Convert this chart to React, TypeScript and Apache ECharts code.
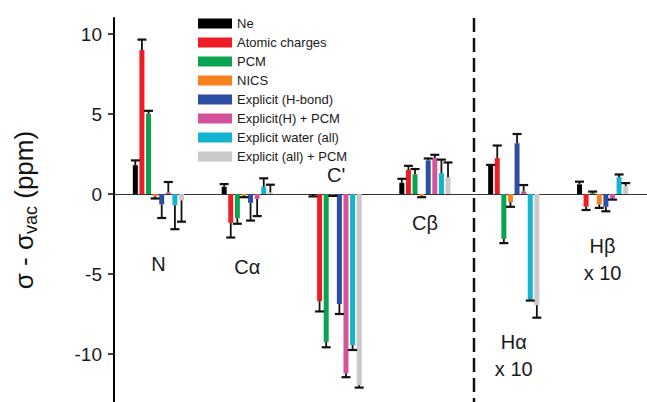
import React, { useEffect, useRef } from "react";
import * as echarts from "echarts";

// Nuclei (categories along the x axis)
const categories = ["N", "Cα", "C'", "Cβ", "Hα", "Hβ"];
// Extra line printed under some category labels (H shifts are scaled by 10)
const scaleNotes = ["", "", "", "", "x 10", "x 10"];
// Vertical level (ppm) at which each category label is written
const labelLevels = [-4.37, -4.55, 1.19, -1.81, -10.1, -4.12];

const seriesNames = [
  "Ne",
  "Atomic charges",
  "PCM",
  "NICS",
  "Explicit (H-bond)",
  "Explicit(H) + PCM",
  "Explicit water (all)",
  "Explicit (all) + PCM",
];

// σ - σvac (ppm) for each model, per nucleus
const neVals = [1.8, 0.45, -0.05, 0.7, 1.75, 0.6];
const atomicVals = [9.0, -1.8, -6.7, 1.5, 2.24, -0.8];
const pcmVals = [5.0, -1.5, -9.25, 1.23, -2.8, 0.05];
const nicsVals = [-0.15, -0.1, -0.05, -0.1, -0.5, -0.65];
const hbondVals = [-0.65, -0.55, -6.88, 2.1, 3.17, -0.8];
const hPcmVals = [0.1, -0.3, -11.2, 2.25, 0.16, -0.25];
const waterVals = [-0.7, 0.45, -9.45, 1.3, -6.6, 1.05];
const allPcmVals = [-0.4, 0.1, -11.95, 1.05, -6.95, 0.5];

// Error bar lengths (ppm), drawn away from zero
const neErr = [0.3, 0.17, 0.1, 0.25, 0.07, 0.17];
const atomicErr = [0.65, 0.92, 0.64, 0.26, 0.79, 0.2];
const pcmErr = [0.2, 0.36, 0.33, 0.33, 0.27, 0.1];
const nicsErr = [0.13, 0.1, 0.07, 0.1, 0.3, 0.22];
const hbondErr = [0.85, 1.11, 0.62, 0.12, 0.58, 0.28];
const hPcmErr = [0.65, 1.08, 0.25, 0.2, 0.4, 0.1];
const waterErr = [1.5, 0.53, 0.3, 0.85, 0.06, 0.17];
const allPcmErr = [1.33, 0.48, 0.15, 0.92, 0.78, 0.18];

const yTicks = [-10, -5, 0, 5, 10];

const values = [neVals, atomicVals, pcmVals, nicsVals, hbondVals, hPcmVals, waterVals, allPcmVals];
const errors = [neErr, atomicErr, pcmErr, nicsErr, hbondErr, hPcmErr, waterErr, allPcmErr];
const colors = ["#000000", "#ee1c24", "#0aa34f", "#f5821f", "#2c4fa3", "#d4539c", "#12b4d0", "#c9c9c9"];

const FONT = "'Liberation Sans', Arial, Helvetica, sans-serif";
const GRID_LEFT = 114;
const GRID_TOP = 18;
const GRID_WIDTH = 534;
const BAR_W = 5;
const BAR_GAP = 0.32;
const STEP = BAR_W * (1 + BAR_GAP);
const CAP = 4.5;

export default function App() {
  const ref = useRef<HTMLDivElement>(null);

  useEffect(() => {
    if (!ref.current) return;
    const chart = echarts.init(ref.current, undefined, { renderer: "svg" });

    const barSeries = seriesNames.map((name, i) => ({
      name,
      type: "bar",
      data: values[i],
      barWidth: BAR_W,
      barGap: `${BAR_GAP * 100}%`,
      itemStyle: { color: colors[i] },
      z: 2,
    }));

    const errorSeries = seriesNames.map((_, i) => ({
      type: "custom",
      z: 3,
      silent: true,
      encode: { x: 0, y: [1, 2] },
      data: values[i].map((v, c) => [c, v, v + Math.sign(v) * errors[i][c]]),
      renderItem: (_params: any, api: any) => {
        const c = api.value(0);
        const start = api.coord([c, api.value(1)]);
        const end = api.coord([c, api.value(2)]);
        const x = start[0] + (i - 3.5) * STEP;
        const style = { stroke: "#111", lineWidth: 1.8 };
        return {
          type: "group",
          children: [
            { type: "line", shape: { x1: x, y1: start[1], x2: x, y2: end[1] }, style },
            { type: "line", shape: { x1: x - CAP, y1: end[1], x2: x + CAP, y2: end[1] }, style: { ...style, lineWidth: 2.2 } },
          ],
        };
      },
    }));

    const labelSeries = {
      type: "scatter",
      silent: true,
      symbolSize: 0,
      itemStyle: { color: "#fff", opacity: 1 },
      data: categories.map((name, c) => ({
        value: [c, labelLevels[c]],
        name: scaleNotes[c] ? `${name}\n${scaleNotes[c]}` : name,
      })),
      label: {
        show: true,
        position: "inside",
        formatter: (p: any) => p.name,
        fontFamily: FONT,
        fontSize: 20,
        lineHeight: 27,
        color: "#1a1a1a",
        opacity: 1,
        textBorderWidth: 0,
        align: "center",
        verticalAlign: "middle",
      },
      z: 4,
    };

    const bandW = GRID_WIDTH / categories.length;

    chart.setOption({
      animation: false,
      backgroundColor: "#ffffff",
      textStyle: { fontFamily: FONT },
      grid: { left: GRID_LEFT, top: GRID_TOP, width: GRID_WIDTH, bottom: 0 },
      legend: {
        data: seriesNames,
        orient: "vertical",
        left: 193,
        top: 12,
        icon: "rect",
        itemWidth: 34,
        itemHeight: 10,
        itemGap: 6,
        textStyle: { fontFamily: FONT, fontSize: 13, lineHeight: 13, color: "#1a1a1a" },
        selectedMode: false,
      },
      xAxis: {
        type: "category",
        data: categories,
        axisLine: { onZero: true, lineStyle: { color: "#333", width: 1 } },
        axisTick: { show: false },
        axisLabel: { show: false },
        splitLine: { show: false },
      },
      yAxis: {
        type: "value",
        min: -13,
        max: 11,
        name: "{m|σ - σ}{s|vac}{m| (ppm)}",
        nameLocation: "middle",
        nameGap: 74,
        nameTextStyle: {
          rich: {
            m: { fontFamily: FONT, fontSize: 26, color: "#111", lineHeight: 30 },
            s: { fontFamily: FONT, fontSize: 18, color: "#111", padding: [14, 0, 0, 0] },
          },
        },
        axisLine: { show: true, lineStyle: { color: "#000", width: 2 } },
        axisTick: { show: true, length: 6, lineStyle: { color: "#000", width: 1.5 }, customValues: yTicks },
        axisLabel: { fontFamily: FONT, fontSize: 19, color: "#1a1a1a", margin: 12, customValues: yTicks },
        splitLine: { show: false },
      },
      graphic: [
        {
          type: "line",
          silent: true,
          shape: {
            x1: GRID_LEFT + 4 * bandW + 4,
            y1: GRID_TOP,
            x2: GRID_LEFT + 4 * bandW + 4,
            y2: 402,
          },
          style: { stroke: "#111", lineWidth: 2.5, lineDash: [14, 6] },
        },
      ],
      series: [...barSeries, ...errorSeries, labelSeries],
    });

    return () => chart.dispose();
  }, []);

  return (
    <div
      ref={ref}
      style={{ position: "absolute", left: 0, top: 0, width: 647, height: 402, background: "#fff" }}
    />
  );
}
